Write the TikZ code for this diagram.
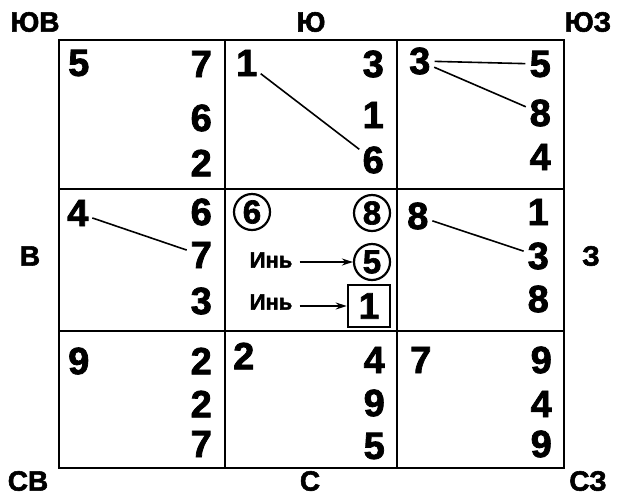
\documentclass[tikz,border=0pt]{standalone}
\usepackage{fontspec}
\setmainfont{Liberation Sans}[BoldFeatures={FakeBold=2}]
\usetikzlibrary{arrows.meta}
\begin{document}
\begin{tikzpicture}[x=1pt,y=-1pt,
  dig/.style={font=\fontsize{38}{38}\selectfont\bfseries, inner sep=0pt},
  lab/.style={font=\fontsize{28}{28}\selectfont\bfseries, inner sep=0pt},
  yin/.style={font=\fontsize{22}{22}\selectfont\bfseries, inner sep=0pt},
  gridline/.style={line width=2pt},
  link/.style={line width=1.6pt, shorten <=4pt, shorten >=4pt},
  circ/.style={circle, draw, line width=2.2pt, minimum size=36pt, inner sep=0pt, font=\fontsize{33}{33}\selectfont\bfseries},
  sq/.style={rectangle, draw, line width=2.5pt, minimum size=42pt, inner sep=0pt, font=\fontsize{37}{37}\selectfont\bfseries},
  arr/.style={line width=1.6pt, -{Stealth[length=11pt,width=7pt]}}
]
\useasboundingbox (0,0) rectangle (617,496);
\fill[white] (0,0) rectangle (617,496);
% grid
\draw[gridline] (59,40) rectangle (564,468);
\draw[gridline] (225,40) -- (225,468);
\draw[gridline] (397,40) -- (397,468);
\draw[gridline] (59,189) -- (564,189);
\draw[gridline] (59,331) -- (564,331);
% direction labels
\node[lab] (lse) at (35,22) {ЮВ};
\node[lab] (ls) at (311,22) {Ю};
\node[lab] (lsw) at (588,22) {ЮЗ};
\node[lab] (le) at (30,256) {В};
\node[lab] (lw) at (591,256) {З};
\node[lab] (lne) at (28,481) {СВ};
\node[lab] (ln) at (310,481) {С};
\node[lab] (lnw) at (588,481) {СЗ};
% row 1
\node[dig,anchor=west] (n11) at (68,63) {5};
\node[dig,anchor=east] (n11a) at (212,64) {7};
\node[dig,anchor=east] (n11b) at (212,118) {6};
\node[dig,anchor=east] (n11c) at (212,163) {2};
\node[dig,anchor=west] (n12) at (236,63) {1};
\node[dig,anchor=east] (n12a) at (384,64) {3};
\node[dig,anchor=east] (n12b) at (384,115) {1};
\node[dig,anchor=east] (n12c) at (384,160) {6};
\node[dig,anchor=west] (n13) at (409,61) {3};
\node[dig,anchor=east] (n13a) at (551,64) {5};
\node[dig,anchor=east] (n13b) at (551,113) {8};
\node[dig,anchor=east] (n13c) at (551,157) {4};
% row 2
\node[dig,anchor=west] (n21) at (67,213) {4};
\node[dig,anchor=east] (n21a) at (212,212) {6};
\node[dig,anchor=east] (n21b) at (212,255) {7};
\node[dig,anchor=east] (n21c) at (212,301) {3};
\node[circ] (c6) at (252,212) {6};
\node[circ] (c8) at (372,213) {8};
\node[circ] (c5) at (372,262) {5};
\node[sq] (s1) at (369,306) {1};
\node[yin] (y1) at (271,260) {Инь};
\node[yin] (y2) at (271,302) {Инь};
\node[dig,anchor=west] (n23) at (407,216) {8};
\node[dig,anchor=east] (n23a) at (549,212) {1};
\node[dig,anchor=east] (n23b) at (549,256) {3};
\node[dig,anchor=east] (n23c) at (549,299) {8};
% row 3
\node[dig,anchor=west] (n31) at (68,361) {9};
\node[dig,anchor=east] (n31a) at (212,361) {2};
\node[dig,anchor=east] (n31b) at (212,404) {2};
\node[dig,anchor=east] (n31c) at (212,444) {7};
\node[dig,anchor=west] (n32) at (233,356) {2};
\node[dig,anchor=east] (n32a) at (385,360) {4};
\node[dig,anchor=east] (n32b) at (385,403) {9};
\node[dig,anchor=east] (n32c) at (385,446) {5};
\node[dig,anchor=west] (n33) at (410,360) {7};
\node[dig,anchor=east] (n33a) at (552,360) {9};
\node[dig,anchor=east] (n33b) at (552,404) {4};
\node[dig,anchor=east] (n33c) at (552,444) {9};
% links
\draw[link] (n12) -- (n12c);
\draw[link] (n13) -- (n13a);
\draw[link] (n13) -- (n13b);
\draw[link] (n21) -- (n21b);
\draw[link] (n23) -- (n23b);
% arrows
\draw[arr, shorten <=7pt] (y1.east |- c5.west) -- (c5.west);
\draw[arr, shorten <=7pt] (y2.east |- s1.west) -- (s1.west);
\end{tikzpicture}
\end{document}
